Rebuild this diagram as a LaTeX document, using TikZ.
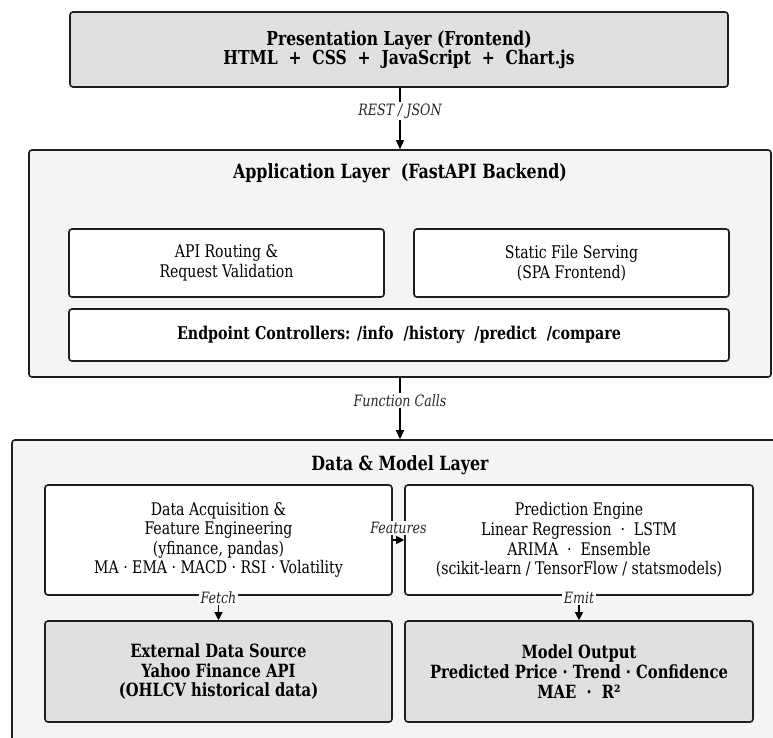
\documentclass[tikz,border=0pt]{standalone}
\usepackage{fontspec}
\setmainfont{DejaVu Serif Condensed}[FakeStretch=0.9]
\usetikzlibrary{arrows.meta}
\definecolor{boxgray}{HTML}{E0E0E0}
\definecolor{layergray}{HTML}{F4F4F4}
\definecolor{edge}{HTML}{1E1E1E}
\begin{document}
\begin{tikzpicture}[x=1pt,y=-1pt,
  base/.style={draw=edge, line width=1.6pt, rounded corners=3pt, inner sep=0pt, align=center, font=\fontsize{17.4}{19.6}\selectfont},
  layer/.style={base, fill=layergray},
  graybox/.style={base, fill=boxgray, font=\fontsize{19.2}{19.2}\selectfont\bfseries},
  whitebox/.style={base, fill=white},
  title/.style={font=\fontsize{19.6}{19.6}\selectfont\bfseries},
  lbl/.style={font=\fontsize{15.6}{16}\selectfont\itshape, fill=white, inner sep=1.5pt, text=black!85},
  arr/.style={-{Triangle[length=9pt,width=8pt]}, line width=1.1pt, draw=black},
  sarr/.style={-{Triangle[length=8pt,width=8pt]}, line width=1.1pt, draw=black}
]
\useasboundingbox (0,0) rectangle (773,738);
\fill[white] (0,0) rectangle (773,738);

% Presentation layer
\node[graybox, minimum width=658pt, minimum height=75pt] (pres) at (399,49.5)
  {Presentation Layer (Frontend)\\HTML\ \ +\ \ CSS\ \ +\ \ JavaScript\ \ +\ \ Chart.js};

% Application layer
\node[layer, minimum width=742pt, minimum height=227pt] (app) at (400,263.5) {};
\node[title] (apptitle) at (400,173) {Application Layer\ \ (FastAPI Backend)};
\node[whitebox, minimum width=315pt, minimum height=68pt] (route) at (226.5,263)
  {API Routing \&\\Request Validation};
\node[whitebox, minimum width=315pt, minimum height=68pt] (static) at (571.5,263)
  {Static File Serving\\(SPA Frontend)};
\node[whitebox, minimum width=660pt, minimum height=52pt, font=\fontsize{17.6}{19.6}\selectfont\bfseries] (endp) at (399,335)
  {Endpoint Controllers: /info\ \ /history\ \ /predict\ \ /compare};

% Data & Model layer (extends beyond the picture)
\begin{scope}
\clip (0,0) rectangle (773,738);
\node[layer, minimum width=790pt, minimum height=330pt] (data) at (407,605) {};
\end{scope}
\node[title] (datatitle) at (400,465) {Data \& Model Layer};
\node[whitebox, minimum width=347pt, minimum height=110pt] (acq) at (218.5,540)
  {Data Acquisition \&\\Feature Engineering\\(yfinance, pandas)\\MA · EMA · MACD · RSI · Volatility};
\node[whitebox, minimum width=348pt, minimum height=110pt] (pred) at (579,540)
  {Prediction Engine\\Linear Regression\ \ ·\ \ LSTM\\ARIMA\ \ ·\ \ Ensemble\\(scikit-learn / TensorFlow / statsmodels)};
\node[graybox, minimum width=347pt, minimum height=101pt, font=\fontsize{18.2}{19.6}\selectfont\bfseries] (ext) at (218.5,671.5)
  {External Data Source\\Yahoo Finance API\\(OHLCV historical data)};
\node[graybox, minimum width=348pt, minimum height=101pt, font=\fontsize{18.2}{19.6}\selectfont\bfseries] (out) at (579,671.5)
  {Model Output\\Predicted Price · Trend · Confidence\\MAE\ \ ·\ \ R²};

% Connectors
\draw[arr] (pres.south -| 400,0) -- node[lbl, pos=0.38] {REST / JSON} (400,0 |- app.north);
\draw[arr] (app.south -| 400,0) -- node[lbl, pos=0.37] {Function Calls} (400,0 |- data.north);
\draw[sarr] (acq.east) -- node[lbl, yshift=12pt] {Features} (pred.west);
\draw[sarr] (acq.south) -- node[lbl, pos=0.08] {Fetch} (ext.north);
\draw[sarr] (pred.south) -- node[lbl, pos=0.08] {Emit} (out.north);
\end{tikzpicture}
\end{document}
